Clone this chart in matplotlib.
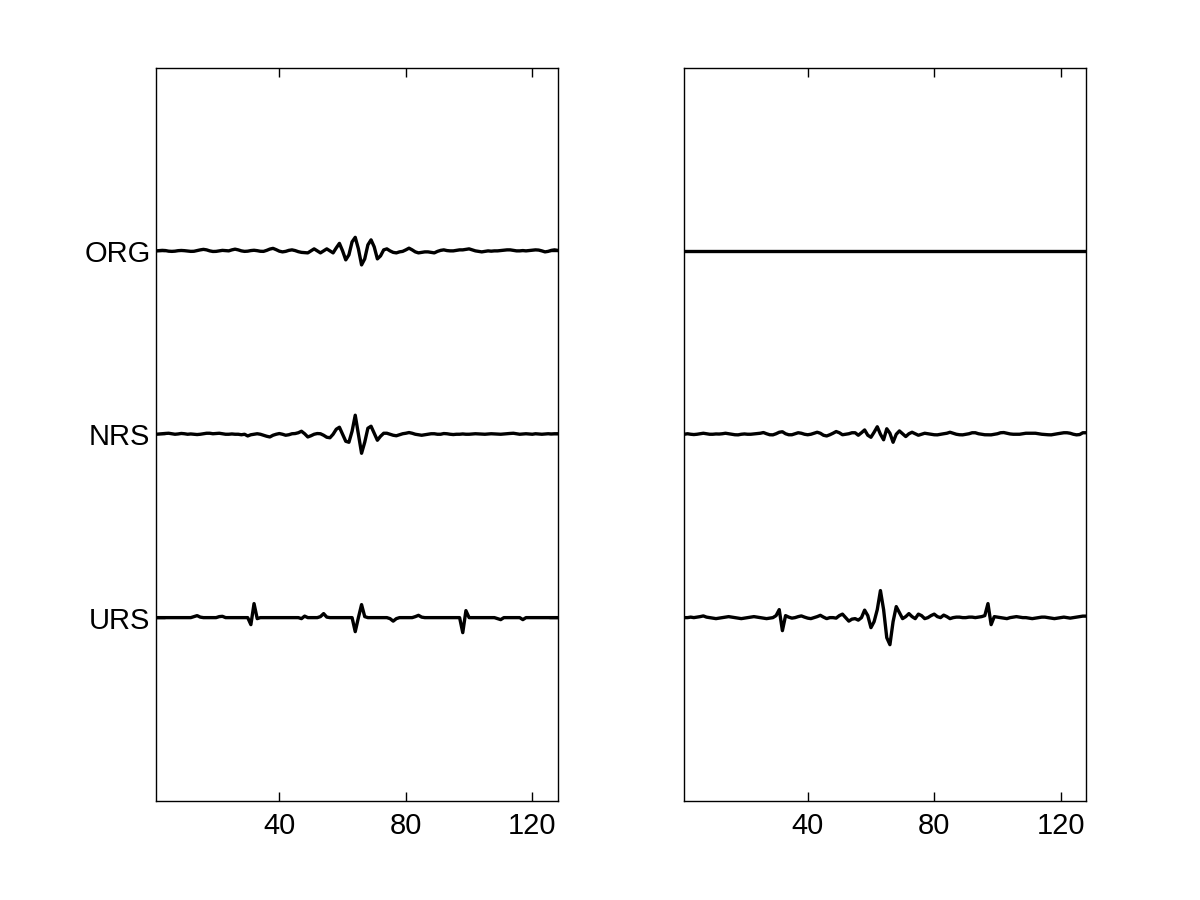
import numpy as np
import matplotlib
matplotlib.use("Agg")
import matplotlib.pyplot as plt

plt.rcParams['font.family'] = ['Liberation Sans', 'DejaVu Sans']

# sample index 1..128
samples = np.arange(1, 129)

trace_labels = ["URS", "NRS", "ORG"]
trace_offsets = [1, 2, 3]
x_ticks = [40, 80, 120]

# amplitudes (arbitrary units)
left_org = [
    0, 0.3, 0.5, 0.3, -0.3, -0.5, -0.3, 0.2, 0.4, 0.2,
    -0.2, -0.5, -0.4, 0.3, 1.0, 1.5, 1.0, 0.0, -0.6, -0.5,
    0.0, 0.5, 0.3, 0.0, 1.0, 1.7, 1.0, 0.0, -0.5, -0.3,
    0.3, 0.6, 0.2, -0.4, -0.5, 0.5, 1.8, 2.5, 1.2, -0.3,
    -1.0, -0.5, 0.5, 1.0, 0.3, -0.8, -1.5, -1.8, -2.0, 0.0,
    2.0, 0.0, -2.0, 0.0, 2.0, 0.0, -2.0, 3.0, 7.5, 0.0,
    -9.0, -4.0, 9.0, 13.5, 2.0, -14.0, -8.0, 6.0, 11.0, 4.0,
    -8.0, -5.0, 1.0, 2.0, 0.0, -1.5, -2.0, -1.0, -0.5, 1.0,
    2.7, 1.0, -1.0, -2.0, -1.5, -1.0, -1.0, -1.5, -2.0, -0.5,
    0.5, 1.0, 0.3, 0.0, 0.0, 0.5, 1.0, 1.0, 1.5, 2.0,
    1.0, 0.0, -0.5, -1.0, -0.5, 0.0, -0.3, 0.0, 0.0, 0.3,
    0.5, 1.0, 1.0, 0.5, 0.0, 0.0, 0.3, 0.0, 0.3, 0.5,
    1.0, 0.8, 0.0, -1.0, -0.5, 0.5, 1.0, 0.5,
]
left_nrs = [
    0, 0.3, 0.5, 0.8, 1.0, 0.5, 0.0, 0.3, 0.8, 0.5,
    0.0, 0.3, 0.0, -0.3, 0.0, 0.5, 1.0, 1.0, 0.5, 0.8,
    1.0, 0.5, 0.0, 0.0, 0.3, 0.0, 0.0, -0.5, 0.0, -1.7,
    -0.5, 0.0, 0.5, 0.0, -1.0, -2.0, -2.7, -1.0, 0.0, 0.7,
    0.0, -1.0, -0.5, 0.5, 0.7, 1.5, 3.0, 0.5, -2.7, -1.5,
    0.0, 0.7, 0.5, -1.0, -3.0, -3.5, 0.0, 5.0, 7.0, 0.0,
    -7.0, -8.0, 3.0, 19.0, 0.0, -19.0, -8.0, 6.0, 8.0, 1.0,
    -6.0, -2.0, 1.0, 1.0, 0.0, -1.0, -1.5, -0.5, 0.5, 1.0,
    1.7, 1.0, 0.0, -0.5, -1.0, -0.5, 0.0, 0.5, 0.5, 0.0,
    0.0, 0.7, 0.5, 0.0, -0.3, 0.0, 0.0, 0.3, 0.0, 0.0,
    0.3, 0.5, 0.3, 0.0, 0.0, 0.3, 0.5, 0.3, 0.0, 0.0,
    0.3, 0.5, 0.8, 1.0, 0.5, 0.0, 0.3, 0.5, 0.3, 0.0,
    0.5, 0.3, 0.0, 0.3, 0.5, 0.3, 0.5, 0.5,
]
left_urs = [
    0, 0, 0, 0, 0, 0, 0, 0, 0, 0,
    0, 0, 1.0, 2.0, 0.5, 0, 0, 0, 0, 0,
    1.0, 1.3, 0, 0, 0, 0, 0, 0, 0, 0,
    -7.0, 14.0, -1.0, 0, 0, 0, 0, 0, 0, 0,
    0, 0, 0, 0, 0, 0, -1.0, 1.5, 0, 0,
    0, 0, 1.0, 4.0, 0.5, 0, 0, 0, 0, 0,
    0, 0, 0, -14.0, 0.0, 13.0, 1.0, 0, 0, 0,
    0, 0, 0, 0, -1.0, -3.5, -1.0, 0, 0, 0,
    0, 0, 1.0, 2.3, 0.5, 0, 0, 0, 0, 0,
    0, 0, 0, 0, 0, 0, 0, -15.0, 7.0, 0,
    0, 0, 0, 0, 0, 0, 0, 0, -1.0, -2.0,
    0, 0, 0, 0, 0, 0, -2.0, 0, 0, 0,
    0, 0, 0, 0, 0, 0, 0, 0,
]
right_org = [0.0] * 128
right_nrs = [
    0, 0.5, 0, -0.3, 0, 0.5, 1.0, 0.5, 0, 0,
    0.3, 0.2, 0.5, 1.0, 0.5, 0, -0.5, -0.6, 0, 0.3,
    0, 0, 0.3, 0.5, 1.0, 1.7, 0.5, -0.5, -0.6, 0.5,
    2.0, 2.5, 0.5, -0.5, -0.5, 0.5, 1.5, 1.0, 0, -0.5,
    0, 1.0, 2.0, 1.0, -1.0, -1.7, -0.5, 1.0, 2.7, 1.5,
    -0.5, 0, 0.5, 1.5, 1.5, -1.0, 1.5, 4.3, -1.0, -3.0,
    2.0, 7.5, 0, -5.5, 5.5, 1.0, -8.0, 0, 3.3, 0.5,
    -2.3, 0.5, 2.0, 0.5, -1.0, 0, 1.0, 0.5, 0, -0.5,
    -0.6, 0, 0.5, 1.0, 2.0, 1.0, 0, -0.5, -0.6, 0,
    0.5, 1.5, 1.5, 0.5, 0, -0.5, -0.5, -0.6, 0, 0.5,
    1.5, 1.7, 1.0, 0.3, 0, 0, 0, 0.5, 1.0, 1.0,
    1.0, 1.0, 0.5, 0, -0.3, -0.5, -0.6, 0, 0.5, 1.0,
    1.5, 1.5, 1.0, 0, -0.6, -0.3, 1.5, 1.5,
]
right_urs = [
    0, 0, 0.5, 0, 0.5, 1.0, 1.7, 0.5, 0, -0.5,
    -1.0, -0.5, 0, 0.5, 1.0, 0.5, 0, -0.5, -1.0, -0.5,
    0, 0.5, 1.0, 0.5, 0, -0.5, -1.0, -0.5, 0, 2.0,
    8.0, -13.0, 2.0, 0.5, -0.5, 0, 1.0, 1.7, 0.5, -0.5,
    -1.0, 0, 1.0, 2.3, 0.5, -1.0, 0, 0, -0.5, 2.0,
    3.5, 0, -3.5, -1.5, -1.0, -2.5, 0, 7.5, 2.0, -10.0,
    -4.0, 8.0, 27.0, 8.0, -20.0, -27.0, -4.0, 11.0, 5.0, -1.0,
    1.0, 4.0, 1.0, -1.0, 3.5, 2.0, -1.0, 0, 2.0, 3.5,
    1.0, 0, 2.5, 1.0, -1.0, 0, 0.5, 0.5, 0, 0,
    0.5, 0.5, 0, 0.5, 1.0, 2.0, 14.0, -7.0, 1.0, 0.5,
    0, -0.5, -1.0, 0, 0.5, 1.0, 0.5, 0, 0, -0.5,
    -1.0, -0.5, 0, 0.5, 0.5, 0, -0.5, -1.0, -0.5, 0,
    0.5, 0, -0.5, 0, 0.5, 1.0, 1.5, 1.5,
]

gain = 1.0 / 183.0  # amplitude units -> offset units

fig = plt.figure(figsize=(12, 9), dpi=100)
ax1 = fig.add_axes([0.13, 0.11, 0.3347, 0.815])
ax2 = fig.add_axes([0.5703, 0.11, 0.3347, 0.815])

panels = [
    (ax1, [left_urs, left_nrs, left_org]),
    (ax2, [right_urs, right_nrs, right_org]),
]
for ax, series in panels:
    for off, s in zip(trace_offsets, series):
        ax.plot(samples, off + np.asarray(s) * gain, color='black', lw=2.4)
    ax.set_xlim(1, 128)
    ax.set_ylim(0, 4)
    ax.set_xticks(x_ticks)
    ax.set_xticklabels([str(t) for t in x_ticks])
    ax.tick_params(axis='both', direction='in', length=6.5, width=1.0,
                   top=True, right=True, labelsize=21)
    ax.tick_params(axis='x', pad=8)
    ax.tick_params(axis='y', pad=4)
    for sp in ax.spines.values():
        sp.set_linewidth(1.0)

ax1.set_yticks(trace_offsets)
ax1.set_yticklabels(trace_labels)
ax2.set_yticks([])

fig.savefig("out.png", dpi=100)
